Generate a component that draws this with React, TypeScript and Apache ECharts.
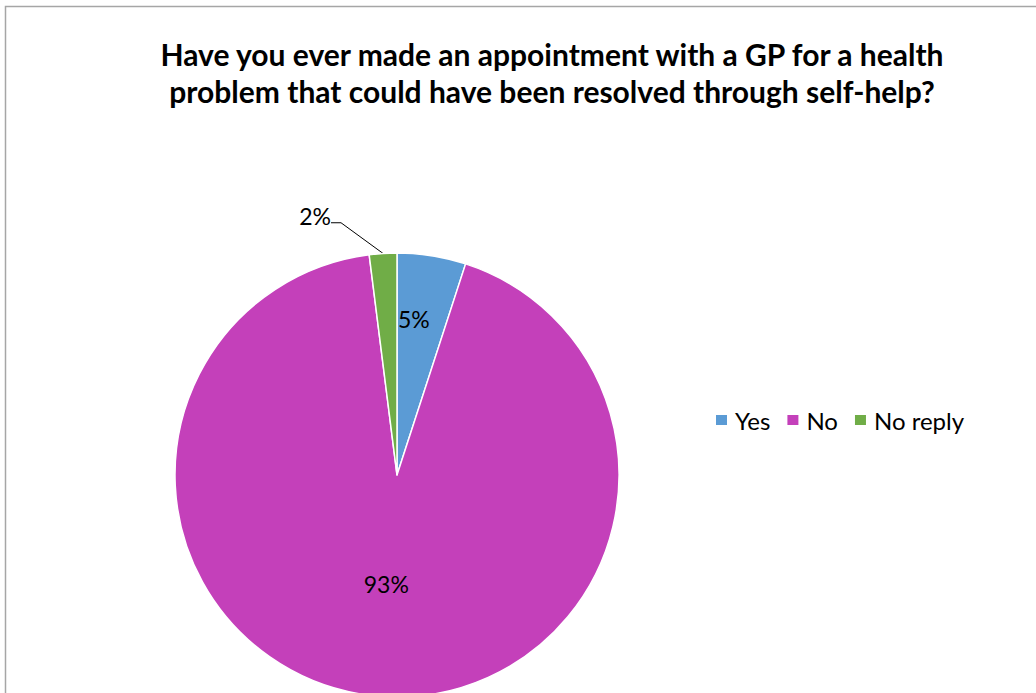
import React, { useEffect, useRef } from "react";
import * as echarts from "echarts";

const titleLines = [
  "Have you ever made an appointment with a GP for a health",
  "problem that could have been resolved through self-help?",
];
const categories = ["Yes", "No", "No reply"];
const values = [5, 93, 2];
const colors = ["#5B9BD5", "#C440BA", "#70AD47"];

export default function App() {
  const ref = useRef<HTMLDivElement>(null);
  useEffect(() => {
    if (!ref.current) return;
    const chart = echarts.init(ref.current, null, { renderer: "svg" });
    const font = "Lato, 'Open Sans', sans-serif";
    const data = categories.map((name, i) => ({
      name,
      value: values[i],
      itemStyle: { color: colors[i] },
    }));
    chart.setOption({
      animation: false,
      backgroundColor: "#ffffff",
      textStyle: { fontFamily: font },
      title: {
        text: titleLines.join("\n"),
        left: 547,
        textAlign: "center",
        top: 30,
        textStyle: {
          fontFamily: font,
          fontWeight: "bold",
          fontSize: 30,
          lineHeight: 37,
          color: "#000",
        },
      },
      graphic: [
        {
          type: "rect",
          shape: { x: 5.5, y: 6.5, width: 1200, height: 900 },
          style: { fill: "none", stroke: "#A6A6A6", lineWidth: 1.5 },
          silent: true,
          z: -1,
        },
      ],
      legend: {
        data: categories,
        orient: "horizontal",
        left: 709,
        top: 403,
        itemWidth: 13,
        itemHeight: 12,
        itemGap: 15,
        icon: "rect",
        textStyle: { fontFamily: font, fontSize: 24, color: "#000", padding: [0, 0, 0, 2] },
      },
      series: [
        {
          type: "pie",
          center: [397, 475],
          radius: [0, 222],
          startAngle: 90,
          clockwise: true,
          data: data.map((d, i) => ({
            ...d,
            label:
              i === 1
                ? { show: true, position: "inside" }
                : i === 2
                ? {
                    show: true,
                    position: "outside",
                    formatter: "{v|{c}%}\n{s| }",
                    rich: {
                      v: { fontFamily: font, fontSize: 23, color: "#000", lineHeight: 28 },
                      s: { fontSize: 8, lineHeight: 14 },
                    },
                  }
                : { show: false },
            labelLine: { show: i === 2, length: 30, length2: 10, lineStyle: { color: "#000", width: 1 } },
          })),
          itemStyle: { borderColor: "#fff", borderWidth: 1.5 },
          label: {
            formatter: "{c}%",
            fontFamily: font,
            fontSize: 23,
            color: "#000",
          },
          labelLayout: (p: any) =>
            p.dataIndex === 2
              ? { x: 331, y: 223, align: "right", verticalAlign: "middle" }
              : { dy: -4 },
          emphasis: { disabled: true },
        },
        {
          type: "pie",
          center: [397, 475],
          radius: [90, 222],
          startAngle: 90,
          clockwise: true,
          silent: true,
          data: data.map((d, i) => ({
            name: d.name,
            value: d.value,
            itemStyle: { color: "rgba(0,0,0,0)" },
            label: { show: i === 0, position: "inside" },
          })),
          label: {
            formatter: "{c}%",
            fontFamily: font,
            fontSize: 23,
            color: "#000",
          },
          labelLayout: { dx: -8, dy: 1 },
          labelLine: { show: false },
          emphasis: { disabled: true },
        },
      ],
    });
    return () => chart.dispose();
  }, []);
  return (
    <div
      ref={ref}
      style={{ position: "absolute", left: 0, top: 0, width: 1036, height: 693 }}
    />
  );
}
